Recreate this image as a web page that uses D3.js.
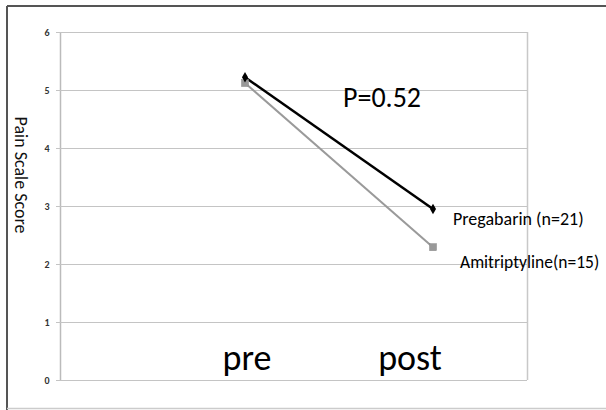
<!DOCTYPE html>
<html><head><meta charset="utf-8">
<script src="https://cdn.jsdelivr.net/npm/d3@7"></script>
<style>body{margin:0;background:#fff}</style>
</head><body>
<svg id="c" width="606" height="410"></svg>
<script>
const categories = ["pre", "post"];
const pregabarin = [5.22, 2.95];
const amitriptyline = [5.12, 2.29];
const yTicks = [0, 1, 2, 3, 4, 5, 6];
const seriesNames = ["Pregabarin (n=21)", "Amitriptyline(n=15)"];
const pLabel = "P=0.52";
const yTitle = "Pain Scale Score";

const svg = d3.select("#c");
const font = "Carlito, Lato, 'Open Sans', sans-serif";

// outer frame
svg.append("line").attr("x1",7).attr("x2",606).attr("y1",6).attr("y2",6).attr("stroke","#555").attr("stroke-width",2);
svg.append("line").attr("x1",7).attr("x2",7).attr("y1",6).attr("y2",410).attr("stroke","#555").attr("stroke-width",2);
svg.append("line").attr("x1",7).attr("x2",606).attr("y1",408.5).attr("y2",408.5).attr("stroke","#ccc").attr("stroke-width",1.5);

const plot = {l:60, r:527, t:32, b:380};
const y = d3.scaleLinear().domain([0,6]).range([plot.b, plot.t]);
const x = d3.scalePoint().domain(categories).range([245, 433]);

// plot border (right)
svg.append("line").attr("x1",plot.r+0.5).attr("x2",plot.r+0.5).attr("y1",plot.t).attr("y2",plot.b).attr("stroke","#c8c8c8").attr("stroke-width",1.5);

// grid
const yAxis = d3.axisLeft(y).tickValues(yTicks).tickFormat(d3.format("d")).tickSize(-(plot.r-plot.l)).tickSizeOuter(0).tickPadding(10);
const g = svg.append("g").attr("transform",`translate(${plot.l},0)`).call(yAxis);
g.select(".domain").attr("stroke","#bbb").attr("stroke-width",1.5);
g.selectAll(".tick line").attr("stroke","#c4c4c4").attr("stroke-width",1.2).attr("x1",-4);
g.selectAll(".tick text").attr("font-family",font).attr("font-size",10).attr("font-weight","bold").attr("fill","#333").attr("text-anchor","middle").attr("x",-13);

// y title
svg.append("text").attr("transform","translate(15,175) rotate(90)").attr("text-anchor","middle")
  .attr("font-family",font).attr("font-size",18).attr("fill","#111").text(yTitle);

// lines
const line = d3.line().x((d,i)=>x(categories[i])).y(d=>y(d));
svg.append("path").datum(amitriptyline).attr("d",line).attr("fill","none").attr("stroke","#9a9a9a").attr("stroke-width",2);
svg.append("path").datum(pregabarin).attr("d",line).attr("fill","none").attr("stroke","#000").attr("stroke-width",2.5);

// markers
svg.selectAll(".sq").data(amitriptyline).enter().append("rect")
  .attr("x",(d,i)=>x(categories[i])-3.5).attr("y",d=>y(d)-3.5).attr("width",7).attr("height",7)
  .attr("fill","#999").attr("stroke","#888").attr("stroke-width",0.5);
svg.selectAll(".dm").data(pregabarin).enter().append("path")
  .attr("d",d3.symbol().type(d3.symbolDiamond).size(32))
  .attr("transform",(d,i)=>`translate(${x(categories[i])},${y(d)})`).attr("fill","#000");

// category labels
svg.selectAll(".cat").data(categories).enter().append("text")
  .attr("x",(d,i)=>x(d) + (i===0?2:-23)).attr("y",370).attr("text-anchor","middle")
  .attr("font-family",font).attr("font-size",36).attr("fill","#000").text(d=>d);

// series labels
svg.append("text").attr("x",453).attr("y",225).attr("font-family",font).attr("font-size",18).attr("fill","#000").text(seriesNames[0]);
svg.append("text").attr("x",460).attr("y",268).attr("font-family",font).attr("font-size",17.5).attr("fill","#000").text(seriesNames[1]);

// p-value
svg.append("text").attr("x",343).attr("y",107).attr("font-family",font).attr("font-size",28).attr("fill","#000").text(pLabel);
</script>
</body></html>
